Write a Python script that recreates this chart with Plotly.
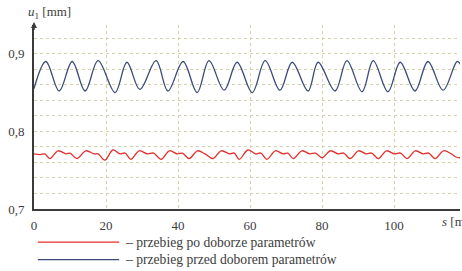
import plotly.graph_objects as go

# ---- data ----
blue_s = [0.0, 3.3, 7.0, 10.6, 14.2, 17.8, 22.5, 25.8, 29.4, 33.9, 37.2, 41.4, 45.3, 48.6,
          52.8, 56.4, 60.6, 64.2, 68.3, 71.7, 76.1, 78.9, 83.6, 86.9, 91.1, 94.2, 98.3,
          101.7, 105.8, 109.4, 113.6, 117.5, 118.5]
blue_u = [0.855, 0.890, 0.852, 0.890, 0.852, 0.891, 0.850, 0.889, 0.854, 0.891, 0.852, 0.890,
          0.850, 0.891, 0.853, 0.889, 0.850, 0.891, 0.853, 0.889, 0.852, 0.889, 0.852, 0.891,
          0.851, 0.891, 0.851, 0.889, 0.852, 0.890, 0.853, 0.890, 0.886]

red_s = [0.0, 1.7, 3.0, 4.4, 6.7, 8.9, 10.0, 11.9, 14.4, 16.7, 17.8, 19.7, 21.9, 23.9, 25.3,
         26.9, 29.2, 31.5, 33.2, 35.3, 37.6, 39.8, 41.2, 43.1, 45.4, 47.5, 49.7, 52.0, 54.3,
         55.6, 57.0, 59.4, 61.6, 63.0, 64.7, 67.0, 69.2, 70.5, 72.0, 74.4, 76.6, 78.2, 80.0,
         82.3, 84.5, 86.0, 87.8, 90.1, 92.3, 93.8, 95.6, 97.9, 100.1, 101.8, 103.6, 105.9,
         108.1, 109.6, 111.4, 113.7, 115.9, 117.2, 118.3]
red_u = [0.771, 0.770, 0.771, 0.765, 0.775, 0.771, 0.772, 0.765, 0.775, 0.771, 0.771, 0.763,
         0.776, 0.771, 0.772, 0.764, 0.775, 0.771, 0.772, 0.764, 0.775, 0.771, 0.772, 0.765,
         0.775, 0.771, 0.765, 0.775, 0.771, 0.772, 0.764, 0.776, 0.771, 0.772, 0.764, 0.775,
         0.771, 0.772, 0.765, 0.775, 0.771, 0.772, 0.766, 0.775, 0.771, 0.772, 0.765, 0.775,
         0.771, 0.772, 0.765, 0.775, 0.771, 0.772, 0.765, 0.775, 0.771, 0.772, 0.765, 0.775,
         0.771, 0.767, 0.766]

x_ticks = [0, 20, 40, 60, 80, 100]
x_labels = ["0", "20", "40", "60", "80", "100"]
y_grid = [0.70, 0.72, 0.74, 0.76, 0.78, 0.80, 0.82, 0.84, 0.86, 0.88, 0.90, 0.92]
y_labels = ["0,7", "", "", "", "", "0,8", "", "", "", "", "0,9", ""]

legend_red = "– przebieg po doborze parametrów"
legend_blue = "– przebieg przed doborem parametrów"

RED = "#e3302c"
BLUE = "#3b4a78"
GRID = "#d6d2ac"
AXIS = "#3a3a3a"
FONT = "Liberation Serif"
TXT = "#3c3c3c"

fig = go.Figure()
fig.add_trace(go.Scatter(x=red_s, y=red_u, mode="lines",
                         line=dict(color=RED, width=1.3, shape="spline", smoothing=1.0),
                         showlegend=False))
fig.add_trace(go.Scatter(x=blue_s, y=blue_u, mode="lines",
                         line=dict(color=BLUE, width=1.3, shape="spline", smoothing=1.0),
                         showlegend=False))

fig.update_layout(
    width=462, height=271,
    margin=dict(l=34, r=2, t=25, b=62, autoexpand=False),
    paper_bgcolor="white", plot_bgcolor="white",
    font=dict(family=FONT, size=13, color=TXT),
    xaxis=dict(range=[0, 118.3], tickvals=x_ticks, ticktext=x_labels, automargin=False,
               showgrid=True, gridcolor=GRID, griddash="dot", gridwidth=1,
               zeroline=False, showline=True, linecolor=AXIS, linewidth=2,
               ticks="", ticklabelstandoff=3,
               tickfont=dict(family=FONT, size=13, color=TXT)),
    yaxis=dict(range=[0.7, 0.937], tickvals=y_grid, ticktext=y_labels, automargin=False,
               showgrid=True, gridcolor=GRID, griddash="dot", gridwidth=1,
               zeroline=False, showline=True, linecolor=AXIS, linewidth=2,
               ticks="", ticklabelstandoff=5,
               tickfont=dict(family=FONT, size=13, color=TXT)),
)

# axis titles
fig.add_annotation(xref="paper", yref="paper", x=0, y=1.0, xshift=-8, yshift=2,
                   xanchor="left", yanchor="bottom", showarrow=False,
                   text="<i>u</i><sub>1</sub> [mm]", font=dict(family=FONT, size=13, color=TXT))
fig.add_annotation(xref="paper", yref="paper", x=1.0, y=0, xshift=-20, yshift=-3,
                   xanchor="left", yanchor="top", showarrow=False,
                   text="<i>s</i> [m]", font=dict(family=FONT, size=13, color=TXT))
# arrow on y axis
fig.add_annotation(xref="paper", yref="paper", x=0, y=1.0, ax=0, ay=10, yshift=3,
                   showarrow=True, arrowhead=2, arrowsize=0.8, arrowwidth=1.5,
                   arrowcolor=AXIS, text=" ", font=dict(size=1))

# manual legend below the chart
fig.add_shape(type="line", xref="paper", yref="paper", x0=0.009, x1=0.2, y0=-0.18, y1=-0.18,
              line=dict(color=RED, width=1.3))
fig.add_shape(type="line", xref="paper", yref="paper", x0=0.009, x1=0.2, y0=-0.275, y1=-0.275,
              line=dict(color=BLUE, width=1.3))
fig.add_annotation(xref="paper", yref="paper", x=0.21, y=-0.18, xanchor="left", yanchor="middle",
                   showarrow=False, text=legend_red, font=dict(family=FONT, size=13.6, color=TXT))
fig.add_annotation(xref="paper", yref="paper", x=0.21, y=-0.275, xanchor="left", yanchor="middle",
                   showarrow=False, text=legend_blue, font=dict(family=FONT, size=13.6, color=TXT))

fig.write_html("out.html", config={"displayModeBar": False},
               post_script="document.body.style.margin='0';document.body.style.overflow='hidden';")
